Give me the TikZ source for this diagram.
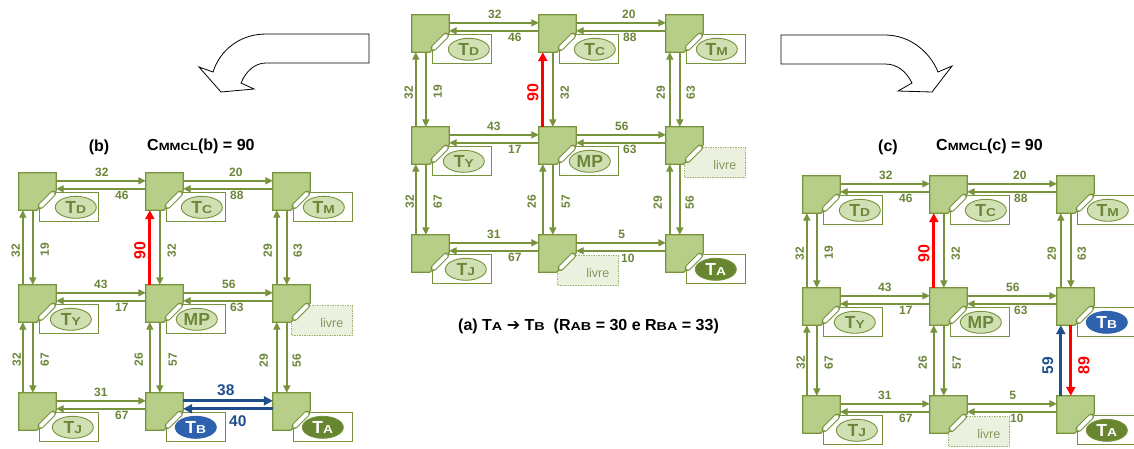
\documentclass[tikz,border=0pt]{standalone}
\usepackage{fontspec}
\usepackage{graphicx}
\setmainfont{Liberation Sans}
\newfontfamily\djv{DejaVu Sans}
\usetikzlibrary{calc,arrows.meta,shapes.geometric}
\definecolor{ol}{HTML}{77933C}
\definecolor{rf}{HTML}{B7CE88}
\definecolor{ef}{HTML}{D0E0B2}
\definecolor{lc}{HTML}{6B8639}
\definecolor{lvf}{HTML}{EBF1DE}
\definecolor{lvt}{HTML}{84975E}
\definecolor{taf}{HTML}{67862F}
\definecolor{tbf}{HTML}{2E62AE}
\definecolor{bl}{HTML}{1F4E8C}
\definecolor{rd}{HTML}{FF0000}
\newcommand\TT[1]{{\fontsize{17.5}{17.5}\selectfont T}\scalebox{1.2}[1]{\fontsize{11.5}{11.5}\selectfont #1}}
\newcommand\smc[1]{\scalebox{1.25}[1]{\fontsize{10.5}{10.5}\selectfont #1}}
\newcommand\smcap[1]{\scalebox{1.25}[1]{\fontsize{11.5}{11.5}\selectfont #1}}
\newcommand\drawrouter[1]{%
 \filldraw[routerst] (#1.north west) -- (#1.north east) -- ($(#1.north east)+(0,18)$) -- ($(#1.south west)+(18,0)$) -- (#1.south west) -- cycle;
 \draw[ol, line width=6pt, line cap=round] ($(#1.north west)+(34.2,20.8)$) -- ($(#1.north west)+(21.8,33.2)$);
 \draw[white, line width=3.8pt, line cap=round] ($(#1.north west)+(34.2,20.8)$) -- ($(#1.north west)+(21.8,33.2)$);
}
\newcommand\mkrouters[3]{%
 \foreach \rw/\ry in {1/0,2/112,3/220}{\foreach \cl/\cx in {1/0,2/127,3/254}{%
  \node[router] (#1\rw\cl) at ({#2+\cx+18.5},{#3+\ry+18.5}) {};}}}
\newcommand\drawrouters[1]{\foreach \nn in {11,12,13,21,22,23,31,32,33}{\drawrouter{#1\nn}}}
\newcommand\core[4]{%
 \draw[corebox] ($(#1.north west)+(21,20)$) rectangle ($(#1.north west)+(80,49)$);
 \node[ell,#3] (#1e) at ($(#1.north west)+(#2,34.5)$) {#4};}
\newcommand\livre[1]{%
 \draw[livrebox] ($(#1.north west)+(19,21)$) rectangle ($(#1.north west)+(80,51)$);
 \node[livretext] (#1l) at ($(#1.north west)+(59,38)$) {livre};}
\newcommand\hpair[8]{%
 \draw[#3] ($(#1.north east)+(0,8)$) -- ($(#2.north west)+(0,8)$);
 \draw[#6] ($(#2.north west)+(0,16)$) -- ($(#1.north east)+(0,16)$);
 \node[#3 lab] (#1#2t) at ($(#1.north west)+(#5)$) {#4};
 \node[#6 lab] (#1#2b) at ($(#1.north west)+(#8)$) {#7};}
\newcommand\vpair[8]{%
 \draw[#3] ($(#2.north west)+(4,0)$) -- ($(#1.south west)+(4,0)$);
 \draw[#6] ($(#1.south west)+(14,0)$) -- ($(#2.north west)+(14,0)$);
 \coordinate (#1#2m) at ($(#1.south west)!0.5!(#2.north west)$);
 \node[#3 lab, rotate=90] (#1#2l) at ($(#1#2m)+(#5)$) {#4};
 \node[#6 lab, rotate=90] (#1#2r) at ($(#1#2m)+(#8)$) {#7};}
\newcommand\commoncores[1]{%
 \core{#111}{57}{}{\TT{D}}
 \core{#112}{56}{}{\TT{C}}
 \core{#113}{51}{}{\TT{M}}
 \core{#121}{52}{}{\TT{Y}}
 \core{#122}{51}{}{{\fontsize{17.5}{17.5}\selectfont MP}}
 \core{#131}{54}{}{\TT{J}}
 \core{#133}{50}{taell}{\TT{A}}}
\newcommand\commonlinks[1]{%
 \hpair{#111}{#112}{arr}{32}{83,0}{arr}{46}{103,23}
 \hpair{#112}{#113}{arr}{20}{90,0}{arr}{88}{91,23}
 \hpair{#121}{#122}{arr}{43}{82,0}{arr}{17}{103,23}
 \hpair{#122}{#123}{arr}{56}{83,0}{arr}{63}{91,23}
 \hpair{#131}{#132}{arr}{31}{82,0}{arr}{67}{103,23}
 \vpair{#111}{#121}{arr}{32}{-3,3}{arr}{19}{26,2}
 \vpair{#112}{#122}{redarr}{90}{-6,3}{arr}{32}{26,3}
 \vpair{#113}{#123}{arr}{29}{-5,3}{arr}{63}{25,3}
 \vpair{#121}{#131}{arr}{32}{-2,2}{arr}{67}{26,2}
 \vpair{#122}{#132}{arr}{26}{-7,2}{arr}{57}{27,2}}
\tikzset{
 router/.style={minimum size=37pt, inner sep=0pt, draw=none},
 routerst/.style={fill=rf, draw=ol, line width=1.3pt},
 corebox/.style={draw=ol, fill=white, line width=0.8pt},
 livrebox/.style={draw=ol!70, fill=lvf, dash pattern=on 1.5pt off 1pt, line width=0.8pt},
 livretext/.style={text=lvt, font=\fontsize{12.5}{12.5}\selectfont, inner sep=0pt},
 ell/.style={ellipse, minimum width=41pt, minimum height=22pt, inner sep=0pt, draw=ol, line width=0.9pt, fill=ef, text=lc, font=\bfseries},
 taell/.style={fill=taf, text=white},
 tbell/.style={fill=tbf, draw=tbf, text=white},
 arr/.style={draw=ol, line width=1.4pt, -{Triangle[length=7.5pt,width=7pt]}},
 arr lab/.style={text=lc, font=\bfseries\fontsize{12}{12}\selectfont, inner sep=0pt},
 redarr/.style={draw=rd, line width=2.8pt, -{Triangle[length=9pt,width=9pt]}},
 redarr lab/.style={text=rd, font=\bfseries\fontsize{16}{16}\selectfont, inner sep=0pt},
 bluearr/.style={draw=bl, line width=2.8pt, -{Triangle[length=9pt,width=9pt]}},
 bluearr lab/.style={text=bl, font=\bfseries\fontsize{15.5}{15.5}\selectfont, inner sep=0pt},
 blockarr/.style={draw=black, line width=0.8pt, fill=white, line join=miter},
 ttl/.style={font=\bfseries\fontsize{16}{16}\selectfont, inner sep=0pt, text=black},
 captxt/.style={font=\bfseries\fontsize{16}{16}\selectfont, inner sep=0pt, text=black},
}
\begin{document}
\begin{tikzpicture}[x=1pt,y=-1pt]
\useasboundingbox (0,0) rectangle (1134,448);
\fill[white] (0,0) rectangle (1134,448);
% block arrows
\draw[blockarr] (369,34) -- (266,34) .. controls (240,34) and (220,50) .. (213,72) -- (199,67) -- (221,92) -- (254,89) -- (241,83) .. controls (246,71) and (255,63) .. (266,63) -- (369,63) -- cycle;
\draw[blockarr] (781,35) -- (885,35) .. controls (910,35) and (930,52) .. (938,72) -- (952,66) -- (932,92) -- (898,91) -- (912,83) .. controls (906,71) and (897,64) .. (885,64) -- (781,64) -- cycle;
% ===== grid a (center)
\mkrouters{a}{412}{15}
\commoncores{a}
\livre{a23}
\livre{a32}
\drawrouters{a}
\commonlinks{a}
\hpair{a32}{a33}{arr}{5}{83,0}{arr}{10}{89,24}
\vpair{a23}{a33}{arr}{29}{-8,3}{arr}{56}{24,3}
% ===== grid b (left)
\mkrouters{b}{19}{173}
\commoncores{b}
\livre{b23}
\core{b32}{50}{tbell}{\TT{B}}
\drawrouters{b}
\commonlinks{b}
\hpair{b32}{b33}{bluearr}{38}{80,-3}{bluearr}{40}{92,28}
\vpair{b23}{b33}{arr}{29}{-9,3}{arr}{56}{24,3}
% ===== grid c (right)
\mkrouters{c}{803}{176}
\commoncores{c}
\core{c23}{50}{tbell}{\TT{B}}
\livre{c32}
\drawrouters{c}
\commonlinks{c}
\hpair{c32}{c33}{arr}{5}{83,0}{arr}{10}{87,23}
\vpair{c23}{c33}{bluearr}{59}{-9,5}{redarr}{89}{27,5}
% titles
\node[ttl] (tb) at (99,147) {(b)};
\node[ttl, anchor=west] (cb) at (147,146) {C\smc{MMCL}(b) = 90};
\node[ttl] (tc) at (888,147) {(c)};
\node[ttl, anchor=west] (cc) at (936,146) {C\smc{MMCL}(c) = 90};
\node[captxt, anchor=west] (capa) at (458,326) {(a) T\smcap{A} {\djv\bfseries ➔} T\smcap{B}\ \ (R\smcap{AB} = 30 e R\smcap{BA} = 33)};
\end{tikzpicture}
\end{document}
